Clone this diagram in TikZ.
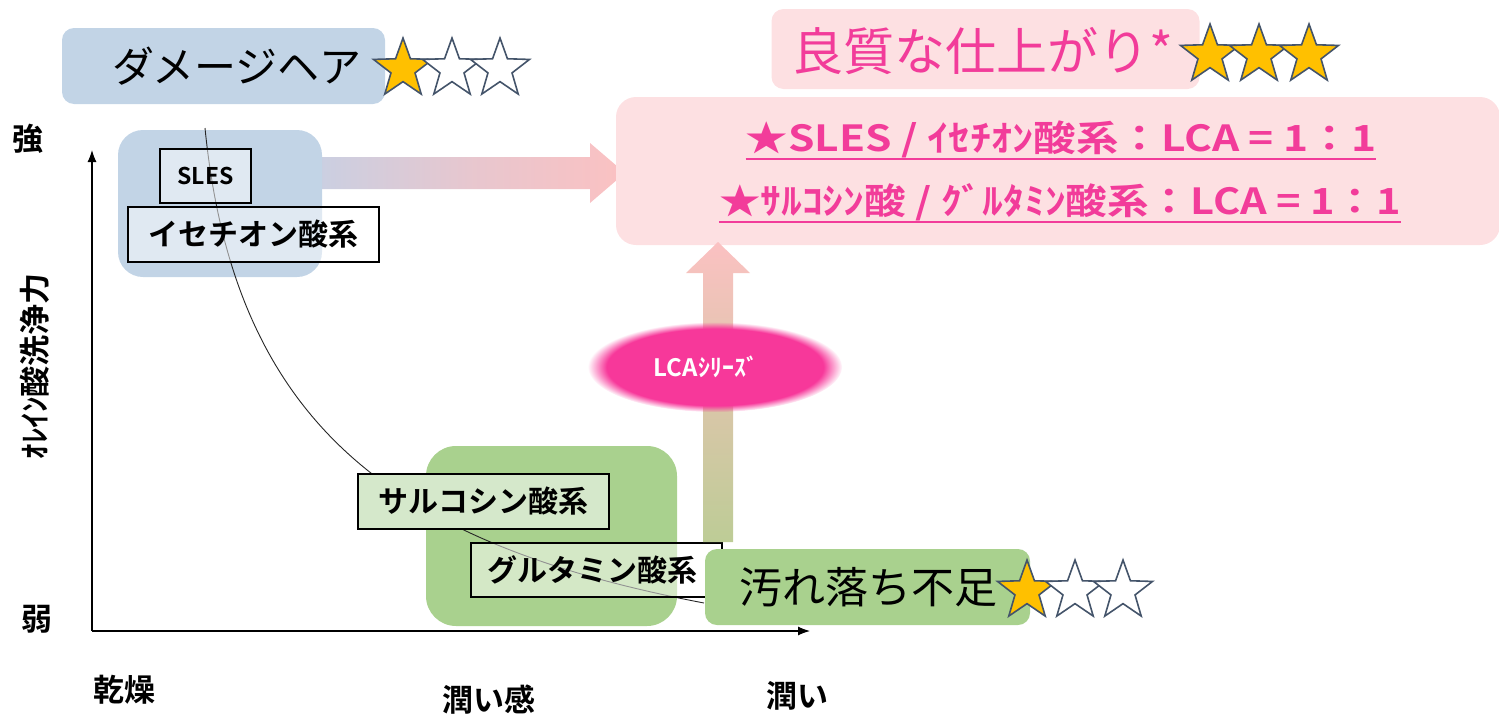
\documentclass[tikz,border=0pt]{standalone}
\usepackage{fontspec}
\setmainfont{Noto Sans CJK JP}[BoldFont={* Bold}]
\usetikzlibrary{shapes.geometric,arrows.meta,fadings}
\definecolor{boxblue}{HTML}{C2D4E6}
\definecolor{boxpink}{HTML}{FDE0E2}
\definecolor{boxgreen}{HTML}{A9D18E}
\definecolor{lightgreen}{HTML}{D5E8CB}
\definecolor{hotpink}{HTML}{F23C9A}
\definecolor{lcapink}{HTML}{F7389A}
\definecolor{gold}{HTML}{FFC000}
\definecolor{starline}{HTML}{44546A}
\definecolor{arrowpink}{HTML}{FBC1C2}
\definecolor{arrowblue}{HTML}{CBCFE1}
\definecolor{arrowgreen}{HTML}{BDCC96}
\definecolor{arrowtan}{HTML}{DCC6AA}
\newcommand{\fsz}[1]{\fontsize{#1pt}{#1pt}\selectfont}
\tikzset{
  panel/.style={rectangle, inner sep=0pt, draw=none},
  labbox/.style={rectangle, inner sep=0pt, draw=black, line width=1.5pt, font=\bfseries\fsz{30}},
  starfive/.style={star, star points=5, star point ratio=2.45, minimum size=62pt, inner sep=0pt, draw=starline, line width=1.6pt},
  axis/.style={line width=1.1pt, -{Latex[length=12pt,width=9pt]}},
  axlabel/.style={font=\bfseries\fsz{31}},
  uline/.style={hotpink, line width=2.5pt},
}
\begin{document}
\begin{tikzpicture}[x=1pt,y=-1pt]
\useasboundingbox (0,0) rectangle (1499,715);

% ---------- damage hair ----------
\node[panel, fill=boxblue, minimum width=323pt, minimum height=76pt, rounded corners=12pt] (dmg) at (223.5,66) {};
\node[font=\fsz{42}] (dmgt) at (237,66) {ダメージヘア};
\node[starfive, fill=gold] (ds1) at (403,69) {};
\node[starfive, fill=white] (ds2) at (452,69) {};
\node[starfive, fill=white] (ds3) at (500,69) {};

% ---------- quality ----------
\node[panel, fill=boxpink, minimum width=428pt, minimum height=80pt, rounded corners=12pt] (qual) at (985.5,49) {};
\node[font=\fsz{51}, text=hotpink] (qualt) at (983,51) {良質な仕上がり*};
\node[starfive, fill=gold] (qs1) at (1210,55) {};
\node[starfive, fill=gold] (qs2) at (1259,55) {};
\node[starfive, fill=gold] (qs3) at (1309,55) {};

% ---------- horizontal block arrow ----------
\shade[left color=arrowblue, right color=arrowpink, middle color=arrowpink!60!arrowblue]
  (322,157) -- (590,157) -- (590,143) -- (625,173) -- (590,203) -- (590,189) -- (322,189) -- cycle;

% ---------- result panel ----------
\node[panel, fill=boxpink, minimum width=884pt, minimum height=148pt, rounded corners=20pt] (big) at (1058,171) {};
\node[inner sep=0pt, text=hotpink, font=\bfseries\fsz{36}] (l1) at (1061,139)
  {\scalebox{1.18}[1]{★SLES / ｲｾﾁｵﾝ酸系：LCA = 1：1}};
\draw[uline] ([yshift=-1pt]l1.south west) -- ([yshift=-1pt]l1.south east);
\node[inner sep=0pt, text=hotpink, font=\bfseries\fsz{36}] (l2) at (1060,202)
  {\scalebox{1.155}[1]{★ｻﾙｺｼﾝ酸 / ｸﾞﾙﾀﾐﾝ酸系：LCA = 1：1}};
\draw[uline] ([yshift=-1pt]l2.south west) -- ([yshift=-1pt]l2.south east);

% ---------- group panels ----------
\node[panel, fill=boxblue, minimum width=204pt, minimum height=147pt, rounded corners=25pt] (blue) at (220,203.5) {};
\node[panel, fill=boxgreen, minimum width=251pt, minimum height=180pt, rounded corners=30pt] (green) at (551.5,536) {};

% ---------- curve ----------
\coordinate (c0) at (205,128);
\coordinate (c1) at (704,603);
\draw[line width=0.9pt, black!85] (c0) .. controls (235,430) and (400,545) .. (c1);

% ---------- label boxes ----------
\node[labbox, fill=white, fill opacity=0.5, text opacity=1, minimum width=91pt, minimum height=54pt, font=\bfseries\fsz{23}] (sles) at (205.5,176) {SLES};
\node[labbox, fill=white, fill opacity=0.5, text opacity=1, minimum width=251pt, minimum height=55pt] (ise) at (253.5,234.5) {イセチオン酸系};
\node[labbox, fill=lightgreen, minimum width=251pt, minimum height=55pt] (sar) at (483.5,501.5) {サルコシン酸系};
\node[labbox, fill=white, fill opacity=0.5, text opacity=1, minimum width=251pt, minimum height=54pt] (glu) at (596.5,570) {\hspace*{-8pt}グルタミン酸系};

% ---------- vertical block arrow ----------
\shade[bottom color=arrowgreen, top color=arrowpink, middle color=arrowtan]
  (703,542) -- (703,273) -- (686,273) -- (718,242) -- (750,273) -- (733,273) -- (733,542) -- cycle;

% ---------- LCA ellipse ----------
\fill[lcapink, path fading=circle with fuzzy edge 15 percent] (715,367) ellipse [x radius=127, y radius=45];
\node[text=white, font=\bfseries\fsz{24}] (lca) at (706,367) {LCAｼﾘｰｽﾞ};

% ---------- dirt ----------
\node[panel, fill=boxgreen, minimum width=325pt, minimum height=76pt, rounded corners=12pt] (dirt) at (867.5,587) {};
\node[font=\fsz{43}] (dirtt) at (868,587) {汚れ落ち不足};
\node[starfive, fill=gold] (ws1) at (1027,591) {};
\node[starfive, fill=white] (ws2) at (1075,591) {};
\node[starfive, fill=white] (ws3) at (1123,591) {};

% ---------- axes ----------
\coordinate (O) at (92,631);
\coordinate (ytop) at (92,150);
\coordinate (xend) at (810,631);
\draw[axis] (O) -- (ytop);
\draw[axis] (O) -- (xend);

\node[axlabel] (strong) at (28,139) {強};
\node[axlabel] (weak) at (37,619) {弱};
\node[axlabel, rotate=90] (ylab) at (35,366) {ｵﾚｲﾝ酸洗浄力};
\node[axlabel] (dry) at (124,690) {乾燥};
\node[axlabel] (moistf) at (489,700) {潤い感};
\node[axlabel] (moist) at (797,696) {潤い};
\end{tikzpicture}
\end{document}
